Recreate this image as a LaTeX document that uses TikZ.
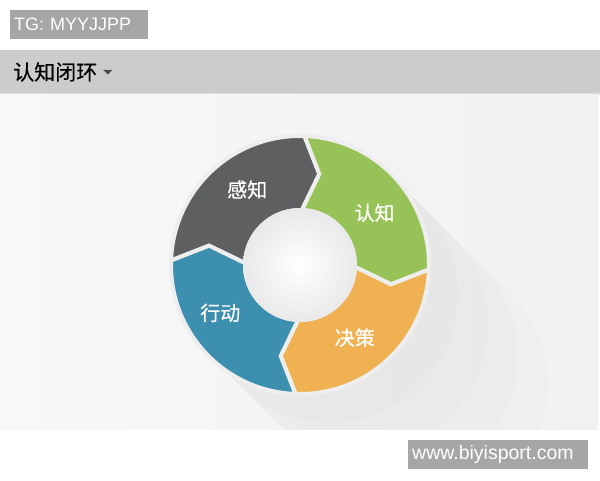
\documentclass[tikz,border=0pt]{standalone}
\usepackage{fontspec}
\setmainfont{Liberation Sans}
\newfontfamily\cjk{Noto Sans CJK SC}
\newfontfamily\cjkb[FakeBold=0.5]{Noto Sans CJK SC}
\usetikzlibrary{positioning,calc}
\definecolor{tagbox}{HTML}{A6A6A6}
\definecolor{barbg}{HTML}{CCCCCC}
\definecolor{barline}{HTML}{DEDEDE}
\definecolor{panelL}{HTML}{F8F8F8}
\definecolor{panelR}{HTML}{F1F1F1}
\definecolor{gapc}{HTML}{EEEEEE}
\definecolor{innerc}{HTML}{E9E9E9}
\definecolor{segsense}{HTML}{5E5F61}
\definecolor{segknow}{HTML}{97C257}
\definecolor{segdecide}{HTML}{EFB152}
\definecolor{segact}{HTML}{3D8FAF}
\tikzstyle{tag} = [fill=tagbox,text=white,inner ysep=0pt,inner xsep=4pt,minimum height=29pt,align=left,font=\fontsize{18}{18}\selectfont]
\tikzstyle{seglabel} = [text=white,font=\cjkb\fontsize{20}{20}\selectfont]
\tikzstyle{seg} = [draw=gapc,line width=4pt]
\newcommand{\rin}{55}
\newcommand{\rmid}{93}
\newcommand{\rout}{129}
\newcommand{\tipang}{10}
% one arrow piece of the ring: colour, start angle, end angle
\newcommand{\ringseg}[3]{%
  \path[seg,fill=#1] ($(c)+(#2:\rin)$) -- ($(c)+(#2-\tipang:\rmid)$) -- ($(c)+(#2:\rout)$)
    arc[start angle=#2,end angle=#3,radius=\rout] -- ($(c)+(#3-\tipang:\rmid)$) -- ($(c)+(#3:\rin)$)
    arc[start angle=#3,end angle=#2,radius=\rin] -- cycle;}

\begin{document}
\begin{tikzpicture}[x=1pt,y=1pt]
	\useasboundingbox (0,0) rectangle (600,480);
	%Background
	\fill[white] (0,0) rectangle (600,480);
	\fill[barbg] (0,387) rectangle (600,430);
	\fill[barline] (0,385) rectangle (600,387);
	\shade[left color=panelL,right color=panelR] (0,51) rectangle (598,385);
	
	%Tags
	\node[tag,anchor=west,text width=130pt] (tg) at (10,455.5) {TG: MYYJJPP};
	\node[tag,anchor=west,text width=172pt,font=\fontsize{19.5}{19.5}\selectfont] (site) at (408,25.5) {www.biyisport.com};
	
	%Title
	\node[anchor=west,inner sep=0pt,font=\cjkb\fontsize{21}{21}\selectfont] (title) at (13,408) {认知闭环};
	\fill[black!70] ($(title.east)+(6,2)$) -- ++(9,0) -- ++(-4.5,-4.5) -- cycle;
	
	%Ring
	\coordinate (c) at (300,215);
	\begin{scope}
		\clip (0,51) rectangle (598,385);
		\foreach \len in {30,60,90,120}
			\fill[black,opacity=0.01] ($(c)+(45:128)$) -- ++(\len,-\len) arc[start angle=45,end angle=-135,radius=128] -- ($(c)+(225:128)$) -- cycle;
	\end{scope}
	\ringseg{segsense}{178}{88}
	\ringseg{segknow}{88}{-2}
	\ringseg{segdecide}{-2}{-92}
	\ringseg{segact}{268}{178}
	\shade[inner color=white,outer color=innerc] (c) circle[radius=57];
	
	%Labels
	\node[seglabel] (sense) at ($(c)+(125:92)$) {感知};
	\node[seglabel] (know) at ($(c)+(35:91)$) {认知};
	\node[seglabel] (decide) at ($(c)+(-53:91)$) {决策};
	\node[seglabel] (act) at ($(c)+(211:93)$) {行动};
\end{tikzpicture}
\end{document}
